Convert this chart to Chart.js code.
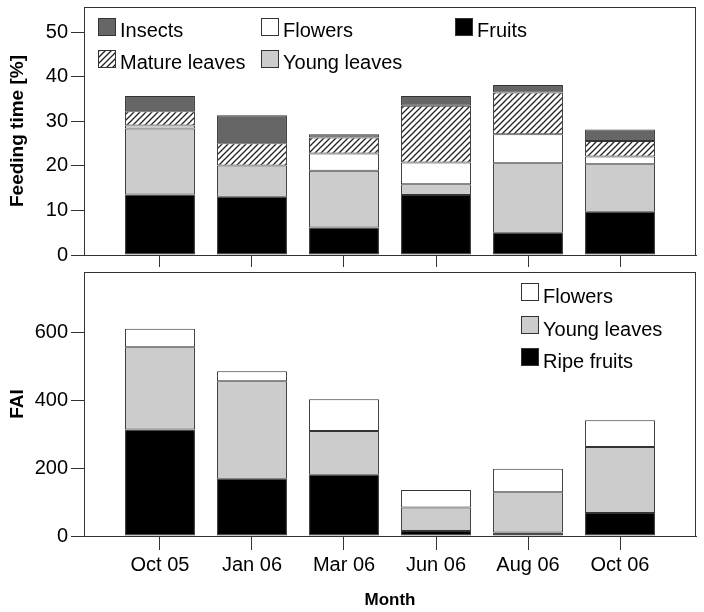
<!DOCTYPE html>
<html><head><meta charset="utf-8">
<script src="https://cdn.jsdelivr.net/npm/chart.js@4.4.1/dist/chart.umd.min.js"></script>
<style>
html,body{margin:0;padding:0;background:#fff;width:704px;height:612px;overflow:hidden;}
canvas{position:absolute;left:0;}
#top{top:0}
#bot{top:268px}
</style></head><body>
<canvas id="top" width="704" height="268"></canvas>
<canvas id="bot" width="704" height="344"></canvas>
<script>
// ---- data ----
const months = ['Oct 05','Jan 06','Mar 06','Jun 06','Aug 06','Oct 06'];
// Feeding time [%] (stack segments, bottom to top)
const ftFruits        = [13.6, 13.1, 6.2, 13.5, 5.0, 9.7];
const ftYoungLeaves   = [14.8, 7.0, 12.7, 2.4, 15.6, 10.7];
const ftFlowers       = [0.7, 0, 3.9, 4.9, 6.5, 1.7];
const ftMatureLeaves  = [3.2, 5.0, 3.6, 12.7, 9.4, 3.5];
const ftInsects       = [3.4, 6.3, 0.7, 2.2, 1.7, 2.6];
const ftTicks = [0, 10, 20, 30, 40, 50];
// FAI (stack segments, bottom to top)
const faiRipeFruits   = [315, 169, 181, 15, 10, 68];
const faiYoungLeaves  = [243, 288, 129, 69, 119, 195];
const faiFlowers      = [54, 30, 94, 52, 70, 79];
const faiTicks = [0, 200, 400, 600];

// ---- styling ----
const FONT = '"Liberation Sans", Arial, Helvetica, sans-serif';
Chart.defaults.font.family = FONT;
Chart.defaults.color = '#000';
const EDGE = '#333';

function hatchPattern(ctx){
  const s = 6, c = document.createElement('canvas');
  c.width = s; c.height = s;
  const g = c.getContext('2d');
  g.fillStyle = '#fff'; g.fillRect(0,0,s,s);
  g.strokeStyle = '#222'; g.lineWidth = 1.3;
  g.beginPath();
  g.moveTo(0,s); g.lineTo(s,0);
  g.moveTo(-1,1); g.lineTo(1,-1);
  g.moveTo(s-1,s+1); g.lineTo(s+1,s-1);
  g.stroke();
  return ctx.createPattern(c,'repeat');
}

const toXY = arr => arr.map((v,i)=>({x:i, y:v}));
function ds(label, arr, color){
  return {label, data: toXY(arr), backgroundColor: color, borderColor: EDGE, borderWidth: 1,
          borderSkipped: false, grouped: false, categoryPercentage: 1, barPercentage: 0.76};
}

const framePlugin = { id:'frame', afterDraw(chart){
  const {ctx, chartArea:a} = chart;
  ctx.save(); ctx.strokeStyle = EDGE; ctx.lineWidth = 1;
  ctx.strokeRect(Math.round(a.left)+0.5, Math.round(a.top)+0.5, Math.round(a.right-a.left)-1, Math.round(a.bottom-a.top));
  ctx.restore();
}};
const legendPlugin = { id:'customLegend', afterDraw(chart, args, o){
  const ctx = chart.ctx;
  ctx.save();
  ctx.font = '20px ' + FONT;
  ctx.textBaseline = 'alphabetic';
  o.items.forEach(it=>{
    const d = chart.data.datasets.find(x=>x.label===it.label);
    ctx.fillStyle = d.backgroundColor;
    ctx.fillRect(it.x, it.y, 18, 18);
    ctx.strokeStyle = EDGE; ctx.lineWidth = 1;
    ctx.strokeRect(it.x+0.5, it.y+0.5, 17, 17);
    ctx.fillStyle = '#000';
    ctx.fillText(it.label, it.x+22, it.y+18+it.dy);
  });
  ctx.restore();
}};

function options(cfg){
  return {
    responsive:false, animation:false, devicePixelRatio:1,
    layout:{padding:{top:cfg.padTop, right:8, left:0, bottom:0}},
    plugins:{legend:{display:false}, tooltip:{enabled:false}, customLegend:{items:cfg.legend}},
    scales:{
      x:{type:'linear', min:-0.826, max:5.826, offset:false,
         afterBuildTicks:s=>{ s.ticks = months.map((m,i)=>({value:i})); },
         afterFit:s=>{ s.height = cfg.xHeight; s.paddingLeft = 0; s.paddingRight = 0; },
         grid:{display:true, offset:false, drawOnChartArea:false, drawTicks:true, tickLength:cfg.xTick, color:EDGE, lineWidth:1},
         border:{display:true, color:EDGE, width:1},
         ticks:{display:cfg.xLabels, padding:3, autoSkip:false, maxRotation:0, minRotation:0,
                font:{size:20}, color:'#000', callback:v=>months[v]},
         title:{display:!!cfg.xTitle, text:cfg.xTitle||'', font:{size:17, weight:'bold'}, color:'#000', padding:{top:0,bottom:1}}
      },
      y:{stacked:true, min:0, max:cfg.yMax,
         afterBuildTicks:s=>{ s.ticks = cfg.yTicks.map(v=>({value:v})); },
         afterFit:s=>{ s.width = 84; s.paddingTop = 0; s.paddingBottom = 0; },
         grid:{drawOnChartArea:false, drawTicks:true, tickLength:13, color:EDGE, lineWidth:1},
         border:{display:true, color:EDGE, width:1},
         ticks:{padding:3, font:{size:20}, color:'#000'},
         title:{display:true, text:cfg.yTitle, font:{size:19, weight:'bold'}, color:'#000', padding:{top:6,bottom:0}}
      }
    }
  };
}

const topCtx = document.getElementById('top').getContext('2d');
const hatch = hatchPattern(topCtx);
new Chart(topCtx, {
  type:'bar',
  data:{datasets:[
    ds('Fruits', ftFruits, '#000'),
    ds('Young leaves', ftYoungLeaves, '#cccccc'),
    ds('Flowers', ftFlowers, '#ffffff'),
    ds('Mature leaves', ftMatureLeaves, hatch),
    ds('Insects', ftInsects, '#666666')
  ]},
  options: options({padTop:7, xHeight:13, xTick:12, xLabels:false, yMax:55.7, yTicks:ftTicks,
    yTitle:'Feeding time [%]',
    legend:[{label:'Insects',x:98,y:18,dy:1},{label:'Flowers',x:261,y:18,dy:1},{label:'Fruits',x:455,y:18,dy:1},
            {label:'Mature leaves',x:98,y:50,dy:1},{label:'Young leaves',x:261,y:50,dy:1}]}),
  plugins:[framePlugin, legendPlugin]
});

const botCtx = document.getElementById('bot').getContext('2d');
new Chart(botCtx, {
  type:'bar',
  data:{datasets:[
    ds('Ripe fruits', faiRipeFruits, '#000'),
    ds('Young leaves', faiYoungLeaves, '#cccccc'),
    ds('Flowers', faiFlowers, '#ffffff')
  ]},
  options: options({padTop:4, xHeight:76, xTick:14, xLabels:true, xTitle:'Month', yMax:780, yTicks:faiTicks,
    yTitle:'FAI',
    legend:[{label:'Flowers',x:521,y:15,dy:2},{label:'Young leaves',x:521,y:48,dy:2},{label:'Ripe fruits',x:521,y:80,dy:2}]}),
  plugins:[framePlugin, legendPlugin]
});
</script>
</body></html>
